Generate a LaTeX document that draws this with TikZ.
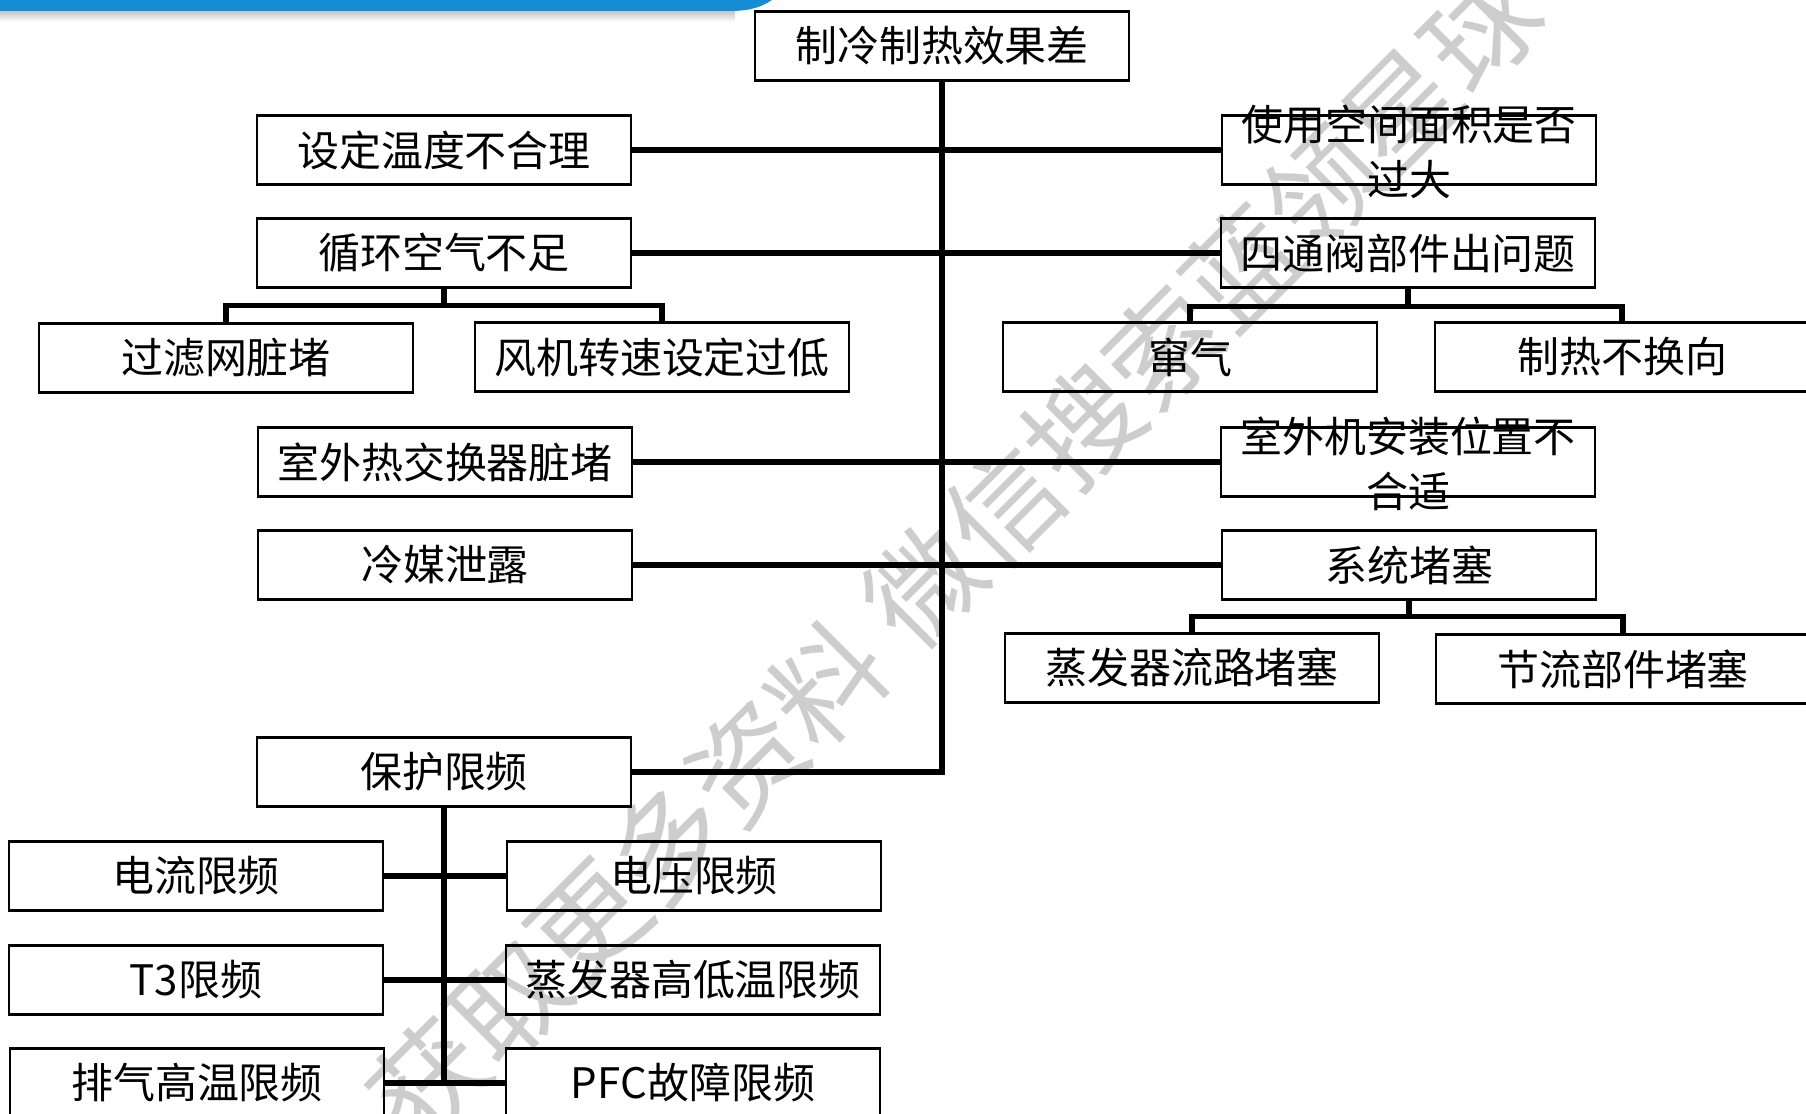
\documentclass[tikz,border=0pt]{standalone}
\usepackage{fontspec}
\setmainfont{Noto Sans CJK SC}
\newfontfamily\wmfont{Noto Sans CJK SC}
\definecolor{barblue}{RGB}{22,140,214}
\definecolor{wmgray}{RGB}{205,205,205}
\tikzset{
    box/.style={draw, line width=1.2pt, minimum width=7.48cm, minimum height=1.38cm,
        inner sep=0pt, font=\fontsize{23.9}{31.3}\selectfont},
    twoline/.style={align=center, inner sep=0pt, font=\fontsize{23.9}{31.3}\selectfont},
    link/.style={line width=3.3pt},
    wm/.style={text=wmgray, font=\wmfont\fontsize{64}{64}\selectfont}
}

\begin{document}
\begin{tikzpicture}[x=0.02cm, y=-0.02cm]
        \useasboundingbox (0,0) rectangle (1806,1114);
        % header bar
        \shade[top color=black!25, bottom color=white] (0,10) rectangle (735,22);
        \fill[barblue] (0,0) -- (772,0) .. controls (760,8) and (748,11) .. (730,11) -- (0,11) -- cycle;

        % watermark
        \node[wm, rotate=45] at (955,555) {获取更多资料 微信搜索蓝领星球};

        % causes
        \node[box] (root) at (942,46) {制冷制热效果差};
        \node[box] (temp) at (444,150) {设定温度不合理};
        \node[box] (room) at (1409,150) {};
        \node[twoline] at (1409,152) {使用空间面积是否\\过大};
        \node[box] (air) at (444,253) {循环空气不足};
        \node[box] (valve) at (1408,253) {四通阀部件出问题};
        \node[box] (filter) at (226,358) {过滤网脏堵};
        \node[box] (fan) at (662,357) {风机转速设定过低};
        \node[box] (blowby) at (1190,357) {窜气};
        \node[box] (nosw) at (1622,357) {制热不换向};
        \node[box] (hx) at (445,462) {室外热交换器脏堵};
        \node[box] (site) at (1408,462) {};
        \node[twoline] at (1408,464) {室外机安装位置不\\合适};
        \node[box] (refr) at (445,565) {冷媒泄露};
        \node[box] (clog) at (1409,565) {系统堵塞};
        \node[box] (evap) at (1192,668) {蒸发器流路堵塞};
        \node[box] (throt) at (1623,669) {节流部件堵塞};
        \node[box] (prot) at (444,772) {保护限频};

        % frequency limits
        \node[box] (cur) at (196,876) {电流限频};
        \node[box] (volt) at (694,876) {电压限频};
        \node[box] (tthree) at (196,980) {T3限频};
        \node[box] (evtemp) at (693,980) {蒸发器高低温限频};
        \node[box] (exh) at (197,1083) {排气高温限频};
        \node[box] (pfc) at (693,1083) {PFC故障限频};

        % trunk and branches
        \draw[link] (root.south) |- (prot.east);
        \draw[link] (temp.east) -- (room.west);
        \draw[link] (air.east) -- (valve.west);
        \draw[link] (hx.east) -- (site.west);
        \draw[link] (refr.east) -- (clog.west);

        % forks
        \draw[link] (air.south) -- ++(0,17) coordinate (airfork);
        \draw[link] (filter.north) |- (airfork) -| (fan.north);
        \draw[link] (valve.south) -- ++(0,18) coordinate (valvefork);
        \draw[link] (blowby.north) |- (valvefork) -| (nosw.north);
        \draw[link] (clog.south) -- ++(0,16) coordinate (clogfork);
        \draw[link] (evap.north) |- (clogfork) -| (throt.north);

        % protection bus
        \draw[link] (prot.south) -- (prot.south |- exh.east);
        \draw[link] (cur.east) -- (volt.west);
        \draw[link] (tthree.east) -- (evtemp.west);
        \draw[link] (exh.east) -- (pfc.west);
\end{tikzpicture}
\end{document}
